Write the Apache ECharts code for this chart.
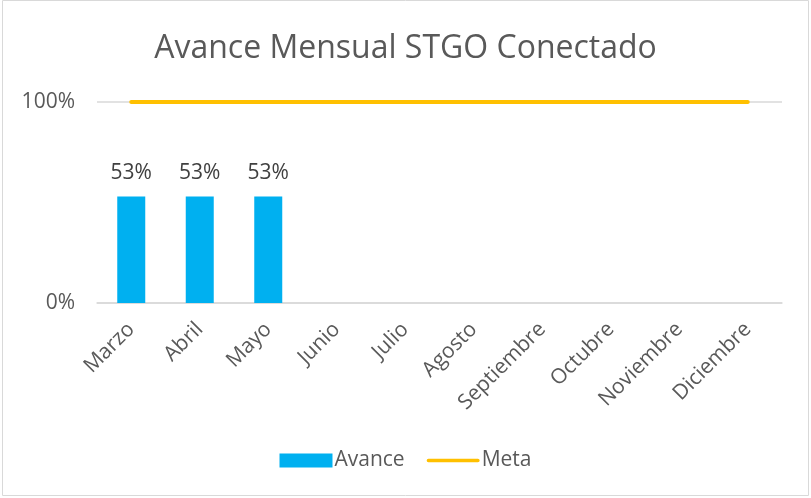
<!DOCTYPE html>
<html><head><meta charset="utf-8">
<script src="https://cdn.jsdelivr.net/npm/echarts@6/dist/echarts.min.js"></script>
<style>html,body{margin:0;padding:0;background:#fff}#c{width:811px;height:498px}</style>
</head><body><div id="c"></div>
<script>
const categories = ['Marzo','Abril','Mayo','Junio','Julio','Agosto','Septiembre','Octubre','Noviembre','Diciembre'];
const avance = [0.53,0.53,0.53,null,null,null,null,null,null,null];
const meta = [1,1,1,1,1,1,1,1,1,1];
const yTicks = [0, 1];

const chart = echarts.init(document.getElementById('c'));
const font = 'Open Sans, Noto Sans, sans-serif';
chart.setOption({
  animation: false,
  textStyle: {fontFamily: font},
  graphic: [{type:'rect', shape:{x:2.5,y:0.5,width:806,height:495}, style:{fill:'none', stroke:'#d9d9d9', lineWidth:1}, silent:true}],
  title: {text:'Avance Mensual STGO Conectado', left:'center', top:28,
    textStyle:{fontFamily:font, fontSize:32, fontWeight:'normal', color:'#595959'}},
  legend: {bottom:22, left:'center', itemGap:22, itemWidth:53, itemHeight:14,
    textStyle:{fontFamily:font, fontSize:21, color:'#595959', padding:[0,0,0,-3]},
    data:[{name:'Avance', icon:'rect'},{name:'Meta', icon:'path://M2,0 L58,0 A2,2 0 0 1 58,4 L2,4 A2,2 0 0 1 2,0 Z'}]},
  grid: {left:97, right:29, top:102, bottom:195},
  xAxis: {type:'category', data:categories,
    axisLine:{lineStyle:{color:'#d9d9d9', width:1.5}}, axisTick:{show:false},
    axisLabel:{rotate:45, fontSize:21, color:'#595959', margin:23, fontFamily:font}},
  yAxis: {type:'value', min:yTicks[0], max:yTicks[1], interval:1,
    axisLabel:{formatter:v=>Math.round(v*100)+'%', fontSize:21, color:'#595959', margin:22, fontFamily:font},
    axisLine:{show:false}, axisTick:{show:false},
    splitLine:{lineStyle:{color:'#d9d9d9', width:1.5}}},
  series: [
    {name:'Avance', type:'bar', data:avance, barWidth:28, itemStyle:{color:'#00b0f0'},
      label:{show:true, position:'top', distance:13, formatter:p=>Math.round(p.value*100)+'%', fontSize:21, color:'#404040', fontFamily:font}},
    {name:'Meta', type:'line', data:meta, symbol:'none', lineStyle:{color:'#ffc000', width:4, cap:'round'}, itemStyle:{color:'#ffc000'}}
  ]
});
</script></body></html>
